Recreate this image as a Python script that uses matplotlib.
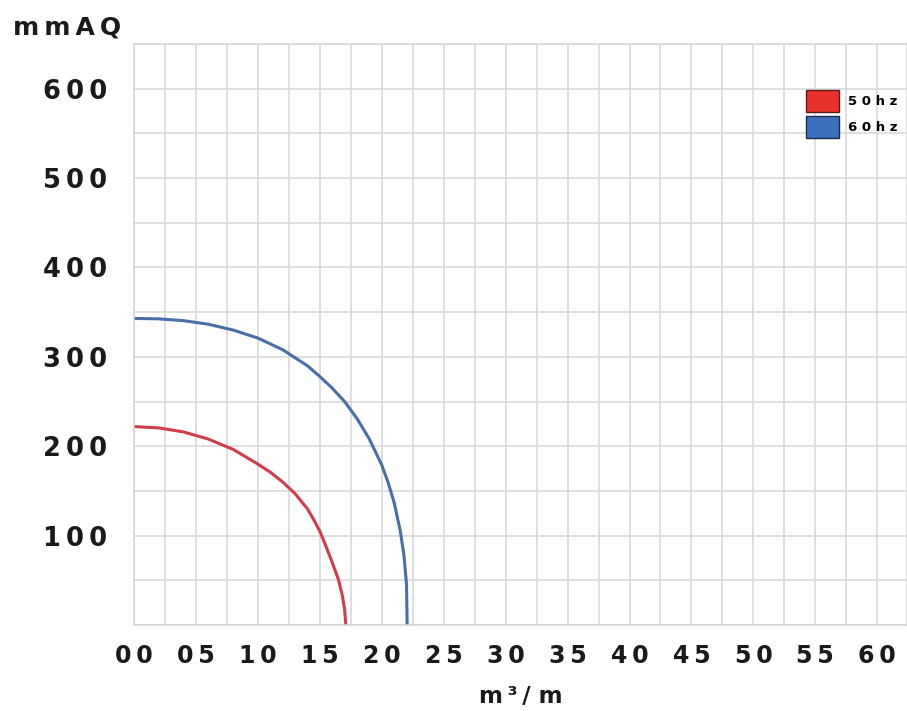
import matplotlib.pyplot as plt
from matplotlib.patches import Patch
from matplotlib.ticker import MultipleLocator

# curvas (vazao m3/m, altura mmAQ)
vazao_50 = [0, 2, 4, 6, 8, 10, 11, 12, 13, 14, 14.5, 15, 15.5, 16, 16.5, 16.8, 17.0, 17.1]
altura_50 = [222, 220.5, 216, 208, 196.5, 180, 171, 160, 147, 130, 118, 105, 88, 70, 51, 34, 18, 0]

vazao_60 = [0, 2, 4, 6, 8, 10, 12, 14, 15, 16, 17, 18, 19, 20, 20.5, 21, 21.5, 21.8, 22.0, 22.05]
altura_60 = [343, 342.5, 340.5, 336.5, 330, 321, 308, 290, 278, 265, 250, 231, 208, 179, 160, 137, 105, 77, 45, 0]

ticks_x = list(range(0, 61, 5))
rotulos_x = ['%02d' % t for t in ticks_x]
ticks_y = [100, 200, 300, 400, 500, 600]
legenda = ['50hz', '60hz']

ts = '\u2009'  # espaco fino entre letras
cor_texto = '#1a1a1a'

fig = plt.figure(figsize=(9.07, 7.11), dpi=100)
ax = fig.add_axes([134 / 907, 1 - 625 / 711, 1 - 134 / 907, (625 - 44) / 711])

ax.plot(vazao_50, altura_50, color='#d23c4b', lw=2.2, solid_capstyle='butt')
ax.plot(vazao_60, altura_60, color='#4a6ea8', lw=2.2, solid_capstyle='butt')

ax.set_xlim(0, 62.4)
ax.set_ylim(0, 650)
ax.set_xticks(ticks_x)
ax.set_xticklabels([ts.join(r) for r in rotulos_x])
ax.set_yticks(ticks_y)
ax.set_yticklabels([ts.join(str(t)) for t in ticks_y])
ax.xaxis.set_minor_locator(MultipleLocator(2.5))
ax.yaxis.set_minor_locator(MultipleLocator(50))
ax.grid(which='both', color='#d6d6d6', lw=1.1)
ax.set_axisbelow(True)
ax.tick_params(which='both', length=0)
ax.tick_params(axis='x', pad=14, labelsize=17, labelcolor=cor_texto)
ax.tick_params(axis='y', pad=19, labelsize=18.5, labelcolor=cor_texto)
for lab in ax.get_xticklabels() + ax.get_yticklabels():
    lab.set_fontweight('bold')
for s in ax.spines.values():
    s.set_color('#d6d6d6')
    s.set_linewidth(1.1)

ax.set_xlabel('m' + ts + '³' + ts + '/ m', fontsize=16.5, fontweight='bold',
              color=cor_texto, labelpad=12)
fig.text(13 / 907, 1 - 28 / 711, ts.join('mmAQ'), fontsize=18, fontweight='bold',
         color=cor_texto, ha='left', va='center')

handles = [Patch(facecolor='#e8302c', edgecolor='#5a1a1a', lw=1),
           Patch(facecolor='#3d6fbf', edgecolor='#1a2a4a', lw=1)]
fig.legend(handles, [' '.join(l) for l in legenda], loc='upper left',
           bbox_to_anchor=(799 / 907, 1 - 83 / 711), frameon=False, borderpad=0,
           handlelength=2.5, handleheight=2.2, labelspacing=0.3, handletextpad=0.68,
           prop={'weight': 'bold', 'size': 9.5})

fig.savefig('out.png', dpi=100)
